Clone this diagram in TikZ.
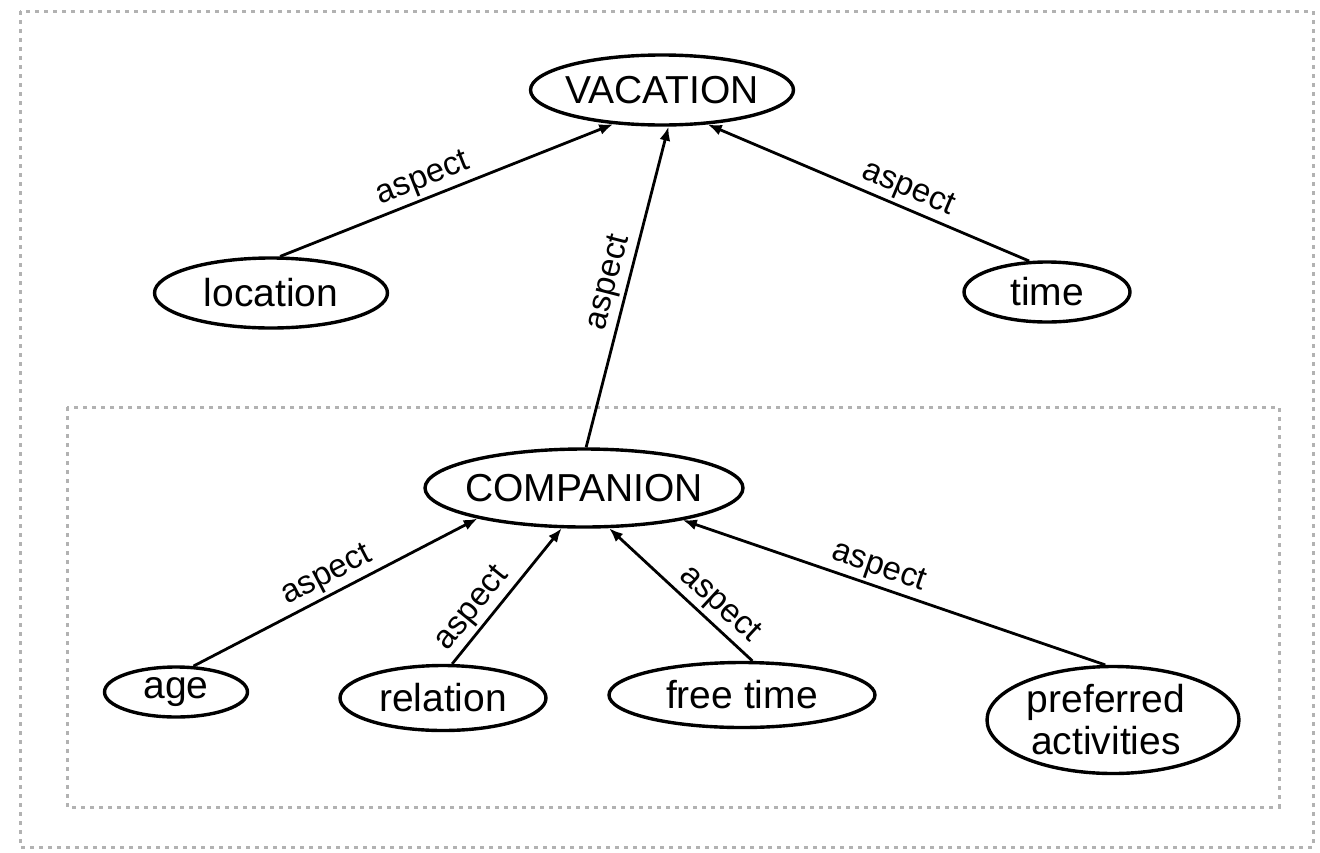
\documentclass[tikz,border=0pt]{standalone}
\usepackage{fontspec}
\setmainfont{Liberation Sans}
\usetikzlibrary{shapes.geometric,arrows.meta}
\tikzset{
  concept/.style={ellipse, draw, line width=3.4pt, inner sep=0pt},
  ntext/.style={font=\fontsize{39}{42}\selectfont, align=center, inner sep=0pt},
  aspectedge/.style={line width=2.8pt, -{Latex[length=14pt,width=11pt]}},
  lbl/.style={sloped, above, font=\fontsize{33}{33}\selectfont, inner sep=3pt},
  frame/.style={draw=gray!60, line width=3pt, dash pattern=on 4pt off 5pt}
}
\begin{document}
\begin{tikzpicture}[x=1pt,y=-1pt]
\useasboundingbox (0,0) rectangle (1320,852);
% frames
\draw[frame] (20,11) rectangle (1313,847);
\draw[frame] (67,407) rectangle (1279,807);
% nodes
\node[concept, minimum width=263pt, minimum height=70pt] (vac) at (662,90) {};
\node[ntext] (vact) at (vac) {VACATION};
\node[concept, minimum width=233pt, minimum height=70pt] (loc) at (271,293) {};
\node[ntext] (loct) at (loc) {location};
\node[concept, minimum width=166pt, minimum height=60pt] (tim) at (1047,292) {};
\node[ntext] (timt) at (tim) {time};
\node[concept, minimum width=318pt, minimum height=78pt] (comp) at (584,488) {};
\node[ntext] (compt) at (comp) {COMPANION};
\node[concept, minimum width=143pt, minimum height=50pt] (age) at (176,692) {};
\node[ntext] (aget) at (age) {age};
\node[concept, minimum width=206pt, minimum height=65pt] (rel) at (443,698) {};
\node[ntext] (relt) at (rel) {relation};
\node[concept, minimum width=266pt, minimum height=65pt] (free) at (742,695) {};
\node[ntext] (freet) at (free) {free time};
\node[concept, minimum width=252pt, minimum height=107pt] (pref) at (1113,720) {};
\node[ntext] (preft) at (1106,720) {preferred\\activities};
% edges
\draw[aspectedge] (loc.76) -- node[lbl, pos=0.45] {aspect} (vac.215);
\draw[aspectedge] (comp.87) -- node[lbl, pos=0.5] {aspect} (vac.280);
\draw[aspectedge] (tim.120) -- node[lbl, pos=0.4] {aspect} (vac.323);
\draw[aspectedge] (age.56) -- node[lbl, pos=0.5] {aspect} (comp.196);
\draw[aspectedge] (rel.75) -- node[lbl, pos=0.32] {aspect} (comp.241);
\draw[aspectedge] (free.73) -- node[lbl, pos=0.32] {aspect} (comp.302);
\draw[aspectedge] (pref.98) -- node[lbl, pos=0.55] {aspect} (comp.342);
\end{tikzpicture}
\end{document}
